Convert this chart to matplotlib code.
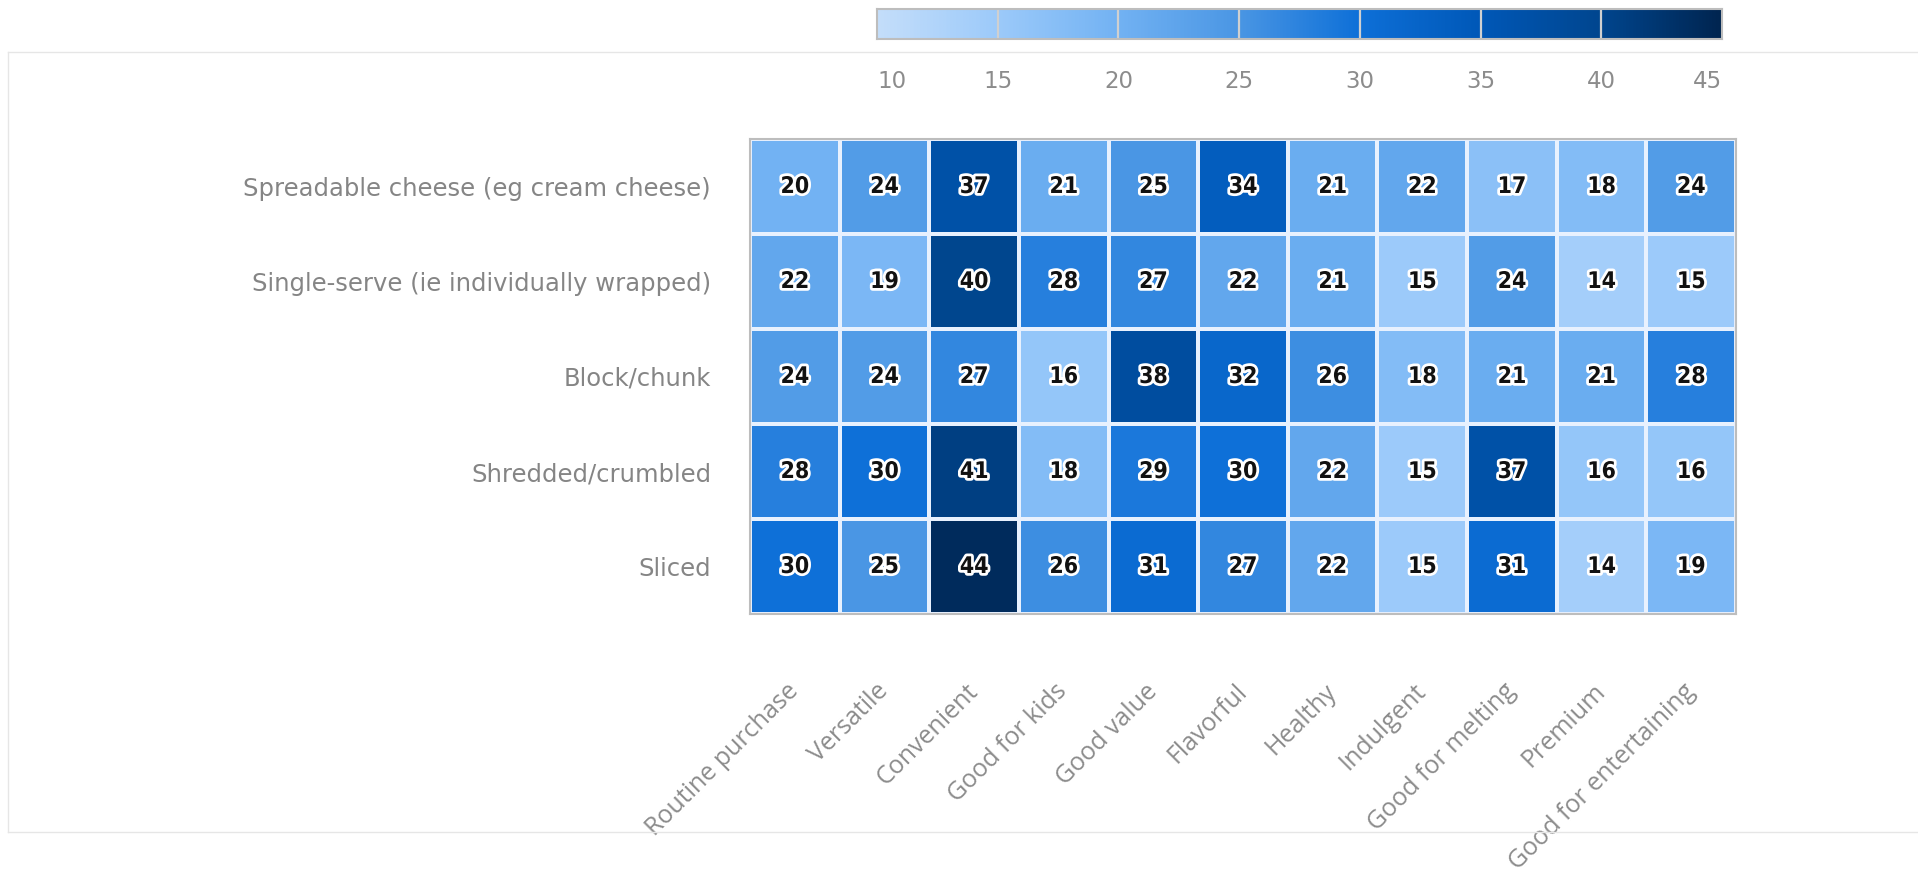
import numpy as np
import matplotlib
matplotlib.use("Agg")
import matplotlib.pyplot as plt
import matplotlib.patheffects as pe
from matplotlib.colors import LinearSegmentedColormap, Normalize
from matplotlib.lines import Line2D

# ---- data ----
formats = ["Spreadable cheese (eg cream cheese)",
           "Single-serve (ie individually wrapped)",
           "Block/chunk",
           "Shredded/crumbled",
           "Sliced"]
attributes = ["Routine purchase", "Versatile", "Convenient", "Good for kids",
              "Good value", "Flavorful", "Healthy", "Indulgent",
              "Good for melting", "Premium", "Good for entertaining"]
spreadable = [20, 24, 37, 21, 25, 34, 21, 22, 17, 18, 24]
single_serve = [22, 19, 40, 28, 27, 22, 21, 15, 24, 14, 15]
block_chunk = [24, 24, 27, 16, 38, 32, 26, 18, 21, 21, 28]
shredded = [28, 30, 41, 18, 29, 30, 22, 15, 37, 16, 16]
sliced = [30, 25, 44, 26, 31, 27, 22, 15, 31, 14, 19]
cbar_ticks = [10, 15, 20, 25, 30, 35, 40, 45]

values = np.array([spreadable, single_serve, block_chunk, shredded, sliced])

# ---- colours / fonts ----
vmin, vmax = 10, 45
stops = [(10, "#c4defa"), (15, "#9ccafa"), (20, "#72b2f3"), (25, "#4a96e4"),
         (30, "#0e70d8"), (35, "#0058b8"), (40, "#00468f"), (45, "#002550")]
cmap = LinearSegmentedColormap.from_list(
    "blues", [((v - vmin) / (vmax - vmin), c) for v, c in stops])
norm = Normalize(vmin, vmax)

narrow = ["Liberation Sans Narrow", "DejaVu Sans"]
label_grey = "#858585"

W, H = 1918, 875
fig = plt.figure(figsize=(W / 100, H / 100), dpi=100)
fig.patch.set_facecolor("white")


def px_axes(x0, y0, x1, y1):
    # axes from pixel box (top-left origin)
    return fig.add_axes([x0 / W, 1 - y1 / H, (x1 - x0) / W, (y1 - y0) / H])


# light frame around the plotting area
for xs, ys in [((8, W), (52, 52)), ((8, W), (832, 832)), ((8, 8), (52, 832))]:
    fig.add_artist(Line2D([x / W for x in xs], [1 - y / H for y in ys],
                          color="#e6e6e6", lw=1))

# ---- heatmap ----
ax = px_axes(750, 139, 1736, 614)
nrow, ncol = values.shape
ax.pcolormesh(np.arange(ncol + 1), np.arange(nrow + 1), values, cmap=cmap,
              norm=norm, edgecolor="#e8f1fe", linewidth=1.5)
ax.set_xlim(0, ncol)
ax.set_ylim(nrow, 0)
for s in ax.spines.values():
    s.set_color("#bdbdbd")
    s.set_linewidth(1.5)

for i in range(nrow):
    for j in range(ncol):
        ax.text(j + 0.5, i + 0.5, str(values[i, j]), ha="center", va="center",
                fontsize=16.5, fontweight="bold", color="#111111",
                family=["DejaVu Sans"], fontstretch="condensed",
                path_effects=[pe.withStroke(linewidth=4, foreground="white")])

ax.set_yticks(np.arange(nrow) + 0.5)
ax.set_yticklabels(formats, family=narrow, fontsize=17.5, color=label_grey)
ax.set_xticks(np.arange(ncol) + 0.5)
ax.set_xticklabels(attributes, rotation=45, ha="right", va="center",
                   rotation_mode="anchor", family=["Open Sans", "DejaVu Sans"],
                   fontsize=18, color="#8c8c8c")
ax.tick_params(axis="y", length=0, pad=28)
ax.tick_params(axis="x", length=0, pad=53)

# ---- colour bar ----
cax = px_axes(877, 9, 1722, 39)
grad = np.linspace(vmin, vmax, 512).reshape(1, -1)
cax.imshow(grad, cmap=cmap, norm=norm, aspect="auto",
           extent=[vmin, vmax, 0, 1])
for t in cbar_ticks[1:-1]:
    cax.axvline(t, color="#d0d0d0", lw=1.6)
cax.set_xlim(vmin, vmax)
cax.set_ylim(0, 1)
cax.set_yticks([])
cax.set_xticks(cbar_ticks)
cax.set_xticklabels([str(t) for t in cbar_ticks], family=narrow,
                    fontsize=16.5, color="#8c8c8c")
tl = cax.get_xticklabels()
tl[0].set_ha("left")
tl[-1].set_ha("right")
cax.tick_params(axis="x", length=0, pad=22)
for s in cax.spines.values():
    s.set_color("#bdbdbd")
    s.set_linewidth(1.5)

plt.savefig("out.png", dpi=100, facecolor="white")
